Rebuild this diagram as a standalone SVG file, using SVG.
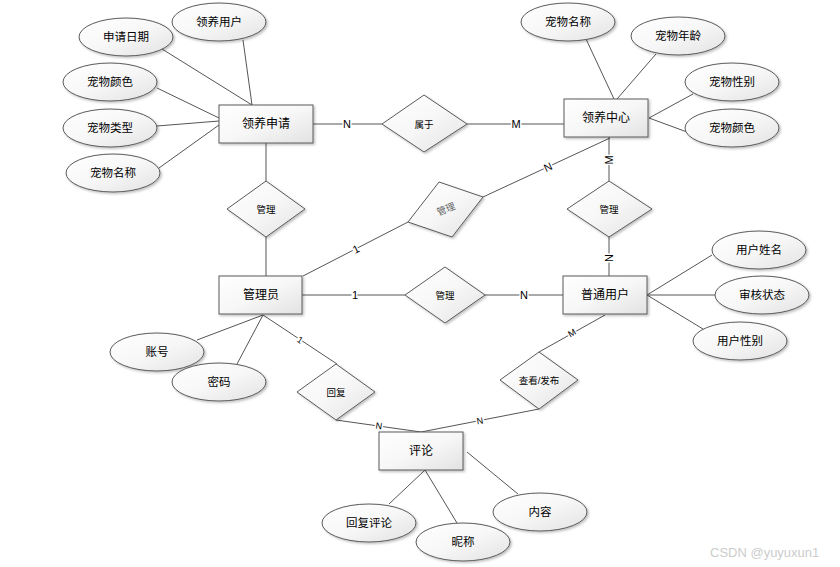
<svg xmlns="http://www.w3.org/2000/svg" width="840" height="567" viewBox="0 0 840 567">
<defs>
<linearGradient id="g" x1="0" y1="0" x2="1" y2="1">
<stop offset="0" stop-color="#ffffff"/>
<stop offset="0.5" stop-color="#f7f7f7"/>
<stop offset="1" stop-color="#e2e2e2"/>
</linearGradient>
<filter id="sh" x="-10%" y="-10%" width="130%" height="140%">
<feDropShadow dx="1.5" dy="1.5" stdDeviation="0.8" flood-color="#000" flood-opacity="0.25"/>
</filter>
</defs>
<style>
.s{fill:url(#g);stroke:#5a5a5a;stroke-width:1;filter:url(#sh)}
.t{font-family:"Liberation Sans","Noto Sans CJK SC",sans-serif;font-size:12px;fill:#000;text-anchor:middle;dominant-baseline:central}
.a{font-size:11.5px}
.d{font-size:9.5px}
.c line{stroke:#555;stroke-width:1}
.l{font-family:"Liberation Sans",sans-serif;font-size:11px;fill:#000;text-anchor:middle;dominant-baseline:central;stroke:#fff;stroke-width:3px;paint-order:stroke}
.wm{font-family:"Liberation Sans",sans-serif;font-size:13px;fill:#cccccc}
</style>
<rect width="840" height="567" fill="#fff"/>
<g id="connectors" class="c">
<line x1="243" y1="40" x2="252" y2="105"/>
<line x1="162" y1="49" x2="252" y2="105"/>
<line x1="157" y1="88" x2="219" y2="118"/>
<line x1="157" y1="126" x2="219" y2="121"/>
<line x1="159" y1="168" x2="219" y2="125"/>
<line x1="313" y1="124" x2="382" y2="124"/>
<line x1="467" y1="124" x2="564" y2="124"/>
<line x1="266" y1="143" x2="266" y2="181"/>
<line x1="266" y1="237" x2="266" y2="276"/>
<line x1="586" y1="39" x2="614" y2="99"/>
<line x1="656" y1="54" x2="617" y2="99"/>
<line x1="693" y1="94" x2="649" y2="118"/>
<line x1="687" y1="132" x2="649" y2="118"/>
<line x1="609" y1="137" x2="609" y2="181"/>
<line x1="609" y1="237" x2="609" y2="276"/>
<line x1="303" y1="276" x2="408" y2="222"/>
<line x1="483" y1="197" x2="610" y2="138"/>
<line x1="302" y1="295" x2="405" y2="295"/>
<line x1="485" y1="295" x2="563" y2="295"/>
<line x1="712" y1="255" x2="647" y2="295"/>
<line x1="647" y1="295" x2="715" y2="295"/>
<line x1="703" y1="329" x2="647" y2="295"/>
<line x1="197" y1="340" x2="263" y2="315"/>
<line x1="237" y1="364" x2="263" y2="315"/>
<line x1="263" y1="315" x2="337" y2="364"/>
<line x1="336" y1="420" x2="421" y2="432"/>
<line x1="539" y1="409" x2="421" y2="432"/>
<line x1="605" y1="315" x2="539" y2="352"/>
<line x1="389" y1="504" x2="425" y2="470"/>
<line x1="457" y1="523" x2="425" y2="470"/>
<line x1="518" y1="494" x2="467" y2="452"/>
<text class="l" x="347" y="124">N</text>
<text class="l" x="516" y="124">M</text>
<text class="l" transform="translate(609 160) rotate(-90)">M</text>
<text class="l" transform="translate(609 258) rotate(-90)">N</text>
<text class="l" transform="translate(356 249) rotate(-27)">1</text>
<text class="l" transform="translate(548 167) rotate(-25)">N</text>
<text class="l" x="355" y="295">1</text>
<text class="l" x="524" y="295">N</text>
<text class="l" style="font-size:9px" transform="translate(300 340) rotate(33)">1</text>
<text class="l" style="font-size:9px" transform="translate(379 426) rotate(8)">N</text>
<text class="l" style="font-size:9px" transform="translate(480 421) rotate(-10)">N</text>
<text class="l" style="font-size:9px" transform="translate(572 333) rotate(-30)">M</text>
</g>
<g id="e-apply"><rect class="s" x="219" y="105" width="94" height="38"/><text class="t" x="266" y="124">领养申请</text></g>
<g id="e-center"><rect class="s" x="564" y="99" width="84" height="38"/><text class="t" x="606" y="118">领养中心</text></g>
<g id="e-admin"><rect class="s" x="219" y="276" width="83" height="38"/><text class="t" x="261" y="295">管理员</text></g>
<g id="e-user"><rect class="s" x="563" y="276" width="84" height="38"/><text class="t" x="605" y="295">普通用户</text></g>
<g id="e-comment"><rect class="s" x="379" y="432" width="84" height="38"/><text class="t" x="421" y="451">评论</text></g>
<g id="r-belong"><polygon class="s" points="382,124 424,95 467,124 424,152"/><text class="t d" x="424" y="124">属于</text></g>
<g id="r-manage1"><polygon class="s" points="227,209 266,181 305,209 266,237"/><text class="t d" x="266" y="209">管理</text></g>
<g id="r-manage2"><polygon class="s" points="567,209 609,181 652,209 609,237"/><text class="t d" x="609" y="209">管理</text></g>
<g id="r-manage3"><polygon class="s" points="405,295 445,267 485,295 445,323"/><text class="t d" x="445" y="295">管理</text></g>
<g id="r-manage4"><polygon class="s" points="408,222 439,182 483,197 452,237"/><text class="t d" style="fill:#666" transform="translate(446 209) rotate(-22)">管理</text></g>
<g id="r-reply"><polygon class="s" points="297,392 336,364 375,392 336,420"/><text class="t d" x="336" y="392">回复</text></g>
<g id="r-view"><polygon class="s" points="500,380 539,352 578,380 539,409"/><text class="t d" x="539" y="380">查看/发布</text></g>
<g id="a-adopter"><ellipse class="s" cx="219" cy="22" rx="47" ry="19"/><text class="t a" x="219" y="22">领养用户</text></g>
<g id="a-date"><ellipse class="s" cx="126" cy="37" rx="47" ry="19"/><text class="t a" x="126" y="37">申请日期</text></g>
<g id="a-color1"><ellipse class="s" cx="110" cy="82" rx="47" ry="19"/><text class="t a" x="110" y="82">宠物颜色</text></g>
<g id="a-type"><ellipse class="s" cx="110" cy="128" rx="47" ry="19"/><text class="t a" x="110" y="128">宠物类型</text></g>
<g id="a-name1"><ellipse class="s" cx="113" cy="173" rx="47" ry="19"/><text class="t a" x="113" y="173">宠物名称</text></g>
<g id="a-name2"><ellipse class="s" cx="568" cy="22" rx="47" ry="19"/><text class="t a" x="568" y="22">宠物名称</text></g>
<g id="a-age"><ellipse class="s" cx="678" cy="36" rx="47" ry="19"/><text class="t a" x="678" y="36">宠物年龄</text></g>
<g id="a-sex"><ellipse class="s" cx="732" cy="82" rx="47" ry="19"/><text class="t a" x="732" y="82">宠物性别</text></g>
<g id="a-color2"><ellipse class="s" cx="732" cy="128" rx="47" ry="19"/><text class="t a" x="732" y="128">宠物颜色</text></g>
<g id="a-uname"><ellipse class="s" cx="759" cy="250" rx="47" ry="19"/><text class="t a" x="759" y="250">用户姓名</text></g>
<g id="a-status"><ellipse class="s" cx="762" cy="295" rx="47" ry="19"/><text class="t a" x="762" y="295">审核状态</text></g>
<g id="a-usex"><ellipse class="s" cx="740" cy="341" rx="47" ry="19"/><text class="t a" x="740" y="341">用户性别</text></g>
<g id="a-account"><ellipse class="s" cx="157" cy="352" rx="47" ry="19"/><text class="t a" x="157" y="352">账号</text></g>
<g id="a-password"><ellipse class="s" cx="219" cy="382" rx="47" ry="19"/><text class="t a" x="219" y="382">密码</text></g>
<g id="a-replyc"><ellipse class="s" cx="369" cy="523" rx="47" ry="19"/><text class="t a" x="369" y="523">回复评论</text></g>
<g id="a-nick"><ellipse class="s" cx="463" cy="542" rx="47" ry="19"/><text class="t a" x="463" y="542">昵称</text></g>
<g id="a-content"><ellipse class="s" cx="540" cy="512" rx="47" ry="19"/><text class="t a" x="540" y="512">内容</text></g>
<text class="wm" x="710" y="557">CSDN @yuyuxun1</text>
</svg>
